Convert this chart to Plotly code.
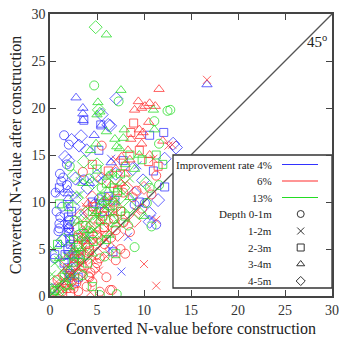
import plotly.graph_objects as go

# ---------------- data ----------------
rates = ["4%", "6%", "13%"]
depths = ["0-1m", "1-2m", "2-3m", "3-4m", "4-5m"]

# 4 % (blue)
b_o_x = [1.5, 2.0, 1.06, 1.2, 1.8, 0.7, 1.1, 1.0, 1.0, 0.9, 2.0, 2.1, 10.1, 11.3, 5.2, 4.8, 0.5, 2.2, 0.3, 9.0, 3.6, 1.4, 0.6, 1.3, 1.8]
b_o_y = [17.1, 16.1, 13.0, 12.2, 11.8, 9.0, 8.4, 7.7, 7.2, 6.9, 7.2, 8.0, 9.9, 7.6, 10.3, 9.8, 4.0, 2.2, 0.8, 9.7, 12.4, 12.6, 11.0, 9.5, 14.0]
b_x_x = [3.2, 1.95, 1.95, 1.95, 2.3, 6.4, 8.3, 7.6, 9.3, 6.5, 3.5, 2.9, 1.0, 5.5, 4.0, 1.8, 10.8, 2.5, 2.1, 1.5]
b_x_y = [12.2, 9.8, 7.2, 4.2, 5.5, 5.0, 6.3, 2.6, 13.9, 14.6, 8.8, 10.7, 11.0, 12.5, 6.0, 2.0, 8.2, 3.5, 6.6, 8.2]
b_s_x = [3.6, 5.4, 5.2, 10.6, 12.1, 12.2, 1.95, 1.9, 2.0, 2.1, 1.9, 2.0, 1.9, 2.1, 0.5, 1.6, 6.7, 5.3, 6.2, 4.5, 5.8, 9.5, 1.0, 3.0, 2.6, 11.0, 3.0, 7.8, 6.9, 2.3, 1.5, 2.2]
b_s_y = [18.7, 18.2, 15.5, 17.1, 17.4, 11.6, 8.4, 7.6, 6.8, 6.1, 5.0, 4.4, 3.0, 2.4, 4.4, 4.4, 4.7, 9.8, 10.6, 10.0, 9.0, 10.0, 11.5, 2.0, 1.5, 13.3, 4.4, 14.4, 10.2, 9.0, 3.5, 5.5]
b_t_x = [2.77, 3.5, 3.5, 3.5, 4.7, 1.95, 1.95, 1.95, 16.7, 5.5, 2.0, 6.5, 4.2, 2.6, 1.1]
b_t_y = [21.1, 20.0, 19.4, 18.7, 17.1, 11.3, 10.9, 10.4, 22.5, 18.2, 7.4, 14.2, 12.0, 4.3, 5.5]
b_d_x = [7.05, 5.5, 6.4, 6.2, 2.3, 3.3, 3.1, 3.9, 1.95, 1.6, 2.7, 13.4, 12.2, 13.1, 10.6, 10.6, 9.9, 7.0, 8.8, 9.0, 3.5, 2.5, 1.3, 4.0, 5.0, 11.5]
b_d_y = [21.0, 19.3, 18.1, 18.2, 16.6, 17.0, 16.0, 15.5, 14.4, 14.8, 12.5, 15.8, 14.6, 16.2, 8.8, 7.9, 12.3, 13.0, 13.5, 10.9, 6.5, 9.5, 5.9, 11.5, 12.8, 10.2]

# 6 % (red)
r_o_x = [4.3, 4.8, 5.0, 4.5, 6.4, 3.8, 5.7, 7.0, 9.2, 10.8, 11.3, 8.5, 2.5, 1.6, 3.0, 7.5, 8.0, 7.8, 6.0, 5.3, 1.3, 2.2, 4.0, 0.5, 9.8, 3.5, 5.5, 0.8, 4.2, 7.0, 2.8, 3.9, 4.1, 5.3, 6.6,
         3.2, 2.6, 3.6, 5.8, 6.5, 4.5, 3.0, 7.8, 8.8]
r_o_y = [2.5, 3.0, 3.5, 1.5, 0.64, 7.5, 7.3, 7.0, 11.2, 10.8, 12.8, 6.8, 0.8, 1.4, 1.8, 5.0, 4.5, 11.0, 2.0, 4.0, 0.5, 2.7, 4.6, 0.5, 9.3, 13.2, 16.0, 1.7, 2.0, 3.8, 1.35, 1.0, 2.1, 0.46, 0.64,
         4.0, 2.2, 3.0, 5.5, 6.2, 6.0, 0.5, 7.8, 10.5]
r_x_x = [16.7, 12.6, 13.0, 10.0, 11.3, 4.3, 2.0, 0.7, 11.3, 3.0, 4.8, 6.8, 9.2, 1.5, 5.5, 3.8, 8.0, 11.0, 7.0, 2.5, 6.0, 3.3, 4.5, 2.2, 5.2, 6.3, 3.5, 1.2]
r_x_y = [23.0, 16.0, 16.1, 3.4, 1.1, 0.4, 1.0, 1.5, 8.1, 3.5, 5.8, 8.8, 9.0, 3.0, 6.5, 9.5, 12.0, 14.6, 14.5, 5.0, 4.2, 4.6, 3.8, 2.5, 2.7, 7.0, 6.5, 0.7]
r_s_x = [8.9, 8.6, 4.5, 6.2, 10.5, 2.6, 3.8, 5.0, 5.6, 6.7, 8.0, 7.5, 2.0, 4.6, 1.8, 3.0, 9.5, 11.5, 3.4, 4.2, 5.8, 6.8, 2.2, 7.2]
r_s_y = [18.4, 17.4, 14.0, 13.3, 14.3, 4.0, 5.5, 6.5, 8.5, 10.0, 13.8, 9.0, 2.0, 9.5, 0.8, 6.2, 15.5, 13.8, 3.2, 4.8, 7.3, 8.2, 0.3, 11.2]
r_t_x = [11.6, 9.4, 10.1, 10.6, 11.2, 9.0, 9.75, 9.5, 9.9, 9.6, 8.6, 9.75, 8.3, 10.6, 7.0, 7.5, 4.5, 5.2, 6.1, 2.7, 3.2, 10.5, 12.0, 8.5, 6.5, 4.0, 3.6, 5.8, 4.8, 8.0, 7.6]
r_t_y = [22.0, 20.7, 20.2, 20.5, 20.2, 19.8, 20.0, 17.7, 17.4, 17.0, 16.7, 16.2, 15.5, 15.0, 13.5, 12.0, 7.0, 8.0, 10.5, 4.5, 3.0, 18.5, 16.5, 14.5, 11.8, 9.8, 5.8, 9.2, 8.8, 13.0, 14.8]
r_d_x = [3.5, 4.0, 2.5, 5.0, 6.0, 7.2, 3.0, 1.5, 4.5, 8.2, 5.5, 2.2, 7.0, 6.5, 9.0, 3.3, 10.0, 1.0, 4.3, 5.3, 3.8, 2.9, 6.2, 7.8, 4.2, 1.8]
r_d_y = [6.0, 5.2, 3.2, 4.5, 8.0, 6.5, 7.2, 2.2, 10.5, 11.5, 12.5, 1.5, 9.5, 5.0, 8.0, 8.6, 11.5, 0.8, 7.3, 6.1, 4.2, 5.3, 9.2, 8.0, 8.8, 3.8]

# 13 % (green)
g_o_x = [4.7, 12.5, 11.1, 11.6, 7.3, 5.3, 7.1, 9.0, 10.3, 6.8, 7.6, 11.6, 10.8, 10.6, 2.1, 4.2, 5.5, 8.3, 3.5, 12.8, 3.0, 5.8, 2.6]
g_o_y = [22.4, 19.7, 18.6, 16.2, 20.7, 0.1, 0.2, 5.2, 9.9, 8.2, 9.0, 11.8, 7.4, 11.5, 13.8, 12.5, 11.5, 7.5, 2.2, 19.8, 6.5, 4.2, 8.0]
g_x_x = [0.3, 0.5, 0.2, 0.5, 0.3, 1.0, 1.5, 2.5, 3.0, 4.0, 4.6, 5.0, 6.0, 2.0, 1.2, 3.5, 0.8, 7.0, 5.5, 3.2, 8.5, 1.8, 2.8, 3.6, 4.2, 5.2, 6.5, 0.9, 2.2]
g_x_y = [5.0, 3.5, 2.3, 1.0, 0.3, 0.5, 1.8, 2.0, 3.8, 6.5, 7.0, 8.5, 9.5, 3.0, 2.7, 5.0, 0.2, 10.0, 6.0, 10.8, 12.5, 4.2, 4.8, 6.0, 8.0, 7.5, 8.8, 3.8, 1.0]
g_s_x = [2.0, 1.0, 0.5, 2.5, 3.5, 4.5, 5.5, 6.0, 6.8, 7.5, 8.5, 5.0, 9.8, 4.0, 3.0, 12.0, 11.3, 6.0, 1.5, 8.0, 7.0, 4.5, 3.2, 4.6, 5.4, 6.4, 2.5, 0.8, 7.2]
g_s_y = [9.5, 9.8, 0.6, 6.0, 7.5, 9.0, 10.5, 12.0, 11.5, 13.0, 15.0, 13.5, 14.5, 3.5, 5.5, 14.0, 15.0, 6.0, 2.0, 8.5, 4.5, 1.0, 4.4, 5.8, 8.0, 9.6, 3.6, 5.5, 11.0]
g_t_x = [6.0, 7.55, 5.1, 5.3, 5.0, 6.0, 7.9, 11.0, 11.1, 4.9, 6.9, 7.1, 7.8, 7.4, 4.3, 9.0, 6.5, 8.0, 9.5, 5.5, 3.0, 6.3, 7.0, 2.0, 4.5, 10.0, 1.0, 3.5, 4.0, 5.0, 2.6, 8.5, 6.2]
g_t_y = [27.8, 21.9, 20.6, 19.6, 19.3, 17.5, 17.7, 19.8, 17.7, 16.2, 16.7, 15.9, 16.8, 15.7, 15.5, 13.5, 13.0, 14.0, 15.0, 10.0, 8.0, 6.5, 7.6, 1.0, 4.5, 8.5, 4.0, 12.0, 7.0, 9.0, 5.0, 10.5, 12.8]
g_d_x = [4.86, 5.2, 2.8, 3.6, 5.0, 4.5, 2.5, 6.0, 5.5, 3.5, 4.0, 3.0, 1.0, 2.0, 6.5, 7.5, 8.5, 9.5, 1.5, 4.8, 7.0, 10.2, 3.2, 0.5, 3.8, 4.4, 5.8, 6.8, 2.4, 1.6, 7.8]
g_d_y = [28.6, 19.8, 10.4, 14.3, 14.0, 12.0, 12.8, 11.0, 9.0, 6.8, 5.5, 4.0, 0.5, 2.5, 8.0, 10.5, 9.5, 8.8, 6.0, 7.8, 12.5, 12.0, 2.3, 1.5, 8.8, 6.6, 10.0, 9.8, 4.4, 1.2, 11.5]

axis_ticks = [0, 5, 10, 15, 20, 25, 30]
legend_texts = ["Improvement rate 4%", "6%", "13%", "Depth 0-1m", "1-2m", "2-3m", "3-4m", "4-5m"]

# ---------------- styling ----------------
colors = {"4%": "rgb(50,50,255)", "6%": "rgb(255,45,45)", "13%": "rgb(35,220,35)"}
symbols = {"0-1m": "circle-open", "1-2m": "x-thin-open", "2-3m": "square-open",
           "3-4m": "triangle-up-open", "4-5m": "diamond-open"}
sizes = {"0-1m": 9, "1-2m": 8, "2-3m": 8, "3-4m": 9, "4-5m": 10}

series = {
    ("4%", "0-1m"): (b_o_x, b_o_y), ("4%", "1-2m"): (b_x_x, b_x_y), ("4%", "2-3m"): (b_s_x, b_s_y),
    ("4%", "3-4m"): (b_t_x, b_t_y), ("4%", "4-5m"): (b_d_x, b_d_y),
    ("6%", "0-1m"): (r_o_x, r_o_y), ("6%", "1-2m"): (r_x_x, r_x_y), ("6%", "2-3m"): (r_s_x, r_s_y),
    ("6%", "3-4m"): (r_t_x, r_t_y), ("6%", "4-5m"): (r_d_x, r_d_y),
    ("13%", "0-1m"): (g_o_x, g_o_y), ("13%", "1-2m"): (g_x_x, g_x_y), ("13%", "2-3m"): (g_s_x, g_s_y),
    ("13%", "3-4m"): (g_t_x, g_t_y), ("13%", "4-5m"): (g_d_x, g_d_y),
}

FONT = "Liberation Serif, Times New Roman, serif"
fig = go.Figure()
for (rate, depth), (xs, ys) in series.items():
    fig.add_trace(go.Scatter(
        x=xs, y=ys, mode="markers", showlegend=False, hoverinfo="skip",
        marker=dict(symbol=symbols[depth], size=sizes[depth], opacity=0.75,
                    color=colors[rate], line=dict(color=colors[rate], width=1.0)),
    ))

# ---- hand-built legend, positioned in axis units of the square frame ----
U = 30.0 / 282.0  # axis units per pixel
box_x0, box_x1 = 123 * U, 30.0
box_y0, box_y1 = 8 * U, 141 * U
row_y = [v * U for v in [131.5, 115, 98.5, 82, 65, 48.5, 32, 15]]
text_x = 223.5 * U
sym_x = 250.7 * U
line_x0, line_x1 = 232 * U, 268 * U

LINE45 = dict(color="#555", width=1.3)
shapes = [
    # 45-degree reference line, interrupted by the legend box
    dict(type="line", xref="x", yref="y", x0=0, y0=0, x1=box_x0, y1=box_x0, line=LINE45, layer="below"),
    dict(type="line", xref="x", yref="y", x0=box_y1, y0=box_y1, x1=30, y1=30, line=LINE45, layer="below"),
    dict(type="rect", xref="x", yref="y", x0=box_x0, x1=box_x1, y0=box_y0, y1=box_y1,
         fillcolor="white", line=dict(color="#333", width=1.3), layer="below"),
]
for i, rate in enumerate(rates):
    shapes.append(dict(type="line", xref="x", yref="y", x0=line_x0, x1=line_x1,
                       y0=row_y[i], y1=row_y[i], line=dict(color=colors[rate], width=1.2), layer="below"))

annotations = []
for i, t in enumerate(legend_texts):
    annotations.append(dict(x=text_x, y=row_y[i], xref="x", yref="y", text=t,
                            showarrow=False, xanchor="right", yanchor="middle",
                            font=dict(family=FONT, size=11, color="#222")))
annotations.append(dict(x=28.4, y=27.1, xref="x", yref="y", text="45<sup>o</sup>", showarrow=False,
                        xanchor="center", yanchor="middle", font=dict(family=FONT, size=15, color="#222")))

for j, depth in enumerate(depths):
    fig.add_trace(go.Scatter(
        x=[sym_x], y=[row_y[3 + j]], mode="markers",
        showlegend=False, hoverinfo="skip",
        marker=dict(symbol=symbols[depth], size=7, color="#333", line=dict(color="#333", width=1)),
    ))

ax_common = dict(range=[0, 30], tickvals=axis_ticks, ticks="inside", ticklen=6, tickwidth=1.3,
                 tickcolor="#444", showline=True, linecolor="#444", linewidth=1.5, mirror="ticks",
                 showgrid=False, zeroline=False, automargin=False,
                 tickfont=dict(family=FONT, size=14, color="#333"))

fig.update_layout(
    width=339, height=337,
    margin=dict(l=50, r=7, t=14, b=41),
    plot_bgcolor="white", paper_bgcolor="white",
    xaxis=dict(**ax_common, title=dict(text="Converted N-value before construction", standoff=6,
                                        font=dict(family=FONT, size=16, color="#222"))),
    yaxis=dict(**ax_common, title=dict(text="Converted N-value after construction", standoff=6,
                                        font=dict(family=FONT, size=16, color="#222"))),
    shapes=shapes, annotations=annotations,
)
fig.write_html("out.html")
